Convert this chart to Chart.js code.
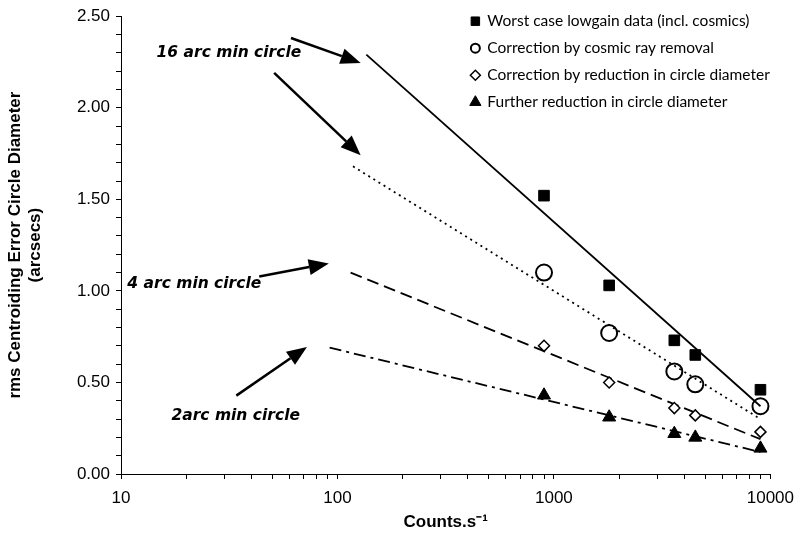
<!DOCTYPE html>
<html>
<head>
<meta charset="utf-8">
<script src="https://cdn.jsdelivr.net/npm/chart.js@4/dist/chart.umd.min.js"></script>
<style>
  html, body { margin: 0; padding: 0; background: #fff; }
  #wrap { width: 803px; height: 533px; }
</style>
</head>
<body>
<div id="wrap"><canvas id="c" width="803" height="533"></canvas></div>
<script>
// Count rates (counts per second) shared by all four measurement sets
const counts = [900, 1800, 3600, 4500, 9000];

// rms centroiding error circle diameter (arcsec)
const worstCase      = [1.52, 1.03, 0.73, 0.65, 0.46];
const cosmicRemoved  = [1.10, 0.77, 0.56, 0.49, 0.37];
const reducedCircle  = [0.70, 0.50, 0.36, 0.32, 0.23];
const furtherReduced = [0.43, 0.31, 0.22, 0.20, 0.14];

// Logarithmic trend lines, start and end of each fitted line
const trendWorstX   = [136, 9000], trendWorstY   = [2.29, 0.37];
const trendCosmicX  = [118, 9000], trendCosmicY  = [1.68, 0.30];
const trendReduceX  = [115, 9000], trendReduceY  = [1.10, 0.19];
const trendFurtherX = [92, 9000],  trendFurtherY = [0.69, 0.12];

const seriesNames = [
  'Worst case lowgain data (incl. cosmics)',
  'Correction by cosmic ray removal',
  'Correction by reduction in circle diameter',
  'Further reduction in circle diameter'
];

const yTickLabels = ['0.00', '0.50', '1.00', '1.50', '2.00', '2.50'];
const xTickLabels = ['10', '100', '1000', '10000'];

const noteTexts = ['16 arc min circle', '4 arc min circle', '2arc min circle'];

function pts(xs, ys) { return xs.map((x, i) => ({ x: x, y: ys[i] })); }

const markerStyles = [
  { pointStyle: 'rect',     radius: 7.5, legendRadius: 6,   fill: '#000', bw: 1 },
  { pointStyle: 'circle',   radius: 8,   legendRadius: 4.5, fill: 'rgba(0,0,0,0)', bw: 2 },
  { pointStyle: 'rectRot',  radius: 5.5, legendRadius: 5,   fill: '#fff', bw: 1.5 },
  { pointStyle: 'triangle', radius: 7.5, legendRadius: 6.5, fill: '#000', bw: 1 }
];
const seriesValues = [worstCase, cosmicRemoved, reducedCircle, furtherReduced];

const markerSets = seriesValues.map((vals, i) => ({
  label: seriesNames[i],
  data: pts(counts, vals),
  showLine: false,
  pointStyle: markerStyles[i].pointStyle,
  pointRadius: markerStyles[i].radius,
  pointBackgroundColor: markerStyles[i].fill,
  pointBorderColor: '#000',
  pointBorderWidth: markerStyles[i].bw,
  order: 1
}));

function trend(xs, ys, dash) {
  return {
    label: '',
    data: pts(xs, ys),
    showLine: true,
    pointRadius: 0,
    borderColor: '#000',
    borderWidth: 1.8,
    borderDash: dash,
    fill: false,
    order: 2
  };
}
const trendSets = [
  trend(trendWorstX, trendWorstY, []),
  trend(trendCosmicX, trendCosmicY, [2, 4]),
  trend(trendReduceX, trendReduceY, [12, 6]),
  trend(trendFurtherX, trendFurtherY, [12, 5, 3, 5])
];

// Callout text and arrows, positioned in data units
const notes = [
  { text: noteTexts[0], x: 14.6,  y: 2.30 },
  { text: noteTexts[1], x: 10.7,  y: 1.036 },
  { text: noteTexts[2], x: 17.1,  y: 0.315 }
];
const arrows = [
  { x0: 61,   y0: 2.381, x1: 128,  y1: 2.245 },
  { x0: 51,   y0: 2.191, x1: 128,  y1: 1.741 },
  { x0: 43.5, y0: 1.079, x1: 91.2, y1: 1.150 },
  { x0: 34.1, y0: 0.428, x1: 72.3, y1: 0.694 }
];

const calloutPlugin = {
  id: 'callouts',
  afterDatasetsDraw(chart) {
    const ctx = chart.ctx, xs = chart.scales.x, ys = chart.scales.y;
    ctx.save();
    ctx.fillStyle = '#000';
    ctx.strokeStyle = '#000';
    ctx.font = 'italic bold 15.5px "DejaVu Sans", Verdana, sans-serif';
    ctx.textBaseline = 'middle';
    ctx.textAlign = 'left';
    notes.forEach(n => {
      ctx.fillText(n.text, xs.getPixelForValue(n.x), ys.getPixelForValue(n.y));
    });
    arrows.forEach(a => {
      const px0 = xs.getPixelForValue(a.x0), py0 = ys.getPixelForValue(a.y0);
      const px1 = xs.getPixelForValue(a.x1), py1 = ys.getPixelForValue(a.y1);
      const ang = Math.atan2(py1 - py0, px1 - px0);
      const headLen = 20, headHalf = 8;
      const bx = px1 - headLen * Math.cos(ang), by = py1 - headLen * Math.sin(ang);
      ctx.lineWidth = 2.5;
      ctx.beginPath();
      ctx.moveTo(px0, py0);
      ctx.lineTo(bx, by);
      ctx.stroke();
      ctx.beginPath();
      ctx.moveTo(px1, py1);
      ctx.lineTo(bx + headHalf * Math.sin(ang), by - headHalf * Math.cos(ang));
      ctx.lineTo(bx - headHalf * Math.sin(ang), by + headHalf * Math.cos(ang));
      ctx.closePath();
      ctx.fill();
    });
    ctx.restore();
  }
};

// Legend drawn in the upper right corner of the plotting area
const legendPlugin = {
  id: 'cornerLegend',
  afterDraw(chart) {
    const ctx = chart.ctx, area = chart.chartArea;
    const mx = area.right - 295, tx = mx + 12;
    const rowY = [area.top + 5, area.top + 32, area.top + 59, area.top + 86];
    ctx.save();
    ctx.font = '15.5px Lato, "Open Sans", sans-serif';
    ctx.textBaseline = 'middle';
    ctx.textAlign = 'left';
    seriesNames.forEach((name, i) => {
      const y = rowY[i];
      const s = markerStyles[i];
      ctx.lineWidth = s.bw;
      ctx.strokeStyle = '#000';
      ctx.fillStyle = s.fill;
      Chart.helpers.drawPoint(ctx, { pointStyle: s.pointStyle, radius: s.legendRadius, rotation: 0, borderWidth: s.bw }, mx, y);
      ctx.fillStyle = '#000';
      ctx.fillText(name, tx, y);
    });
    ctx.restore();
  }
};

const tickFont = { family: '"Liberation Sans", Arial, sans-serif', size: 17 };
const titleFont = { family: '"Liberation Sans", Arial, sans-serif', size: 17, weight: 'bold' };

new Chart(document.getElementById('c'), {
  type: 'scatter',
  data: { datasets: [...markerSets, ...trendSets] },
  options: {
    responsive: false,
    animation: false,
    devicePixelRatio: 1,
    layout: { padding: { top: 13, right: 29, left: 0, bottom: 0 } },
    plugins: { legend: { display: false }, tooltip: { enabled: false } },
    scales: {
      x: {
        type: 'logarithmic',
        min: 10, max: 10000,
        border: { display: true, color: '#000', width: 1 },
        grid: { drawOnChartArea: false, drawTicks: true, tickLength: 5, color: '#000' },
        afterBuildTicks(scale) {
          const vals = [];
          for (let d = 10; d < 10000; d *= 10) for (let m = 1; m < 10; m++) vals.push(m * d);
          vals.push(10000);
          scale.ticks = vals.map(v => ({ value: v }));
        },
        ticks: {
          autoSkip: false, maxRotation: 0, color: '#000', font: tickFont, padding: 9,
          callback(v) {
            const e = Math.log10(v);
            return Math.abs(e - Math.round(e)) < 1e-9 ? xTickLabels[Math.round(e) - 1] : '';
          }
        },
        title: { display: true, text: 'Counts.s\u207B\u00B9', color: '#000', font: titleFont, padding: { top: 0, bottom: 0 } },
        afterFit(scale) { scale.height = 59; }
      },
      y: {
        min: 0, max: 2.5,
        border: { display: true, color: '#000', width: 1 },
        grid: { drawOnChartArea: false, drawTicks: true, tickLength: 5, color: '#000' },
        ticks: {
          stepSize: 0.1, autoSkip: false, color: '#000', font: tickFont, padding: 6,
          callback(v) {
            const k = Math.round(v * 10);
            return k % 5 === 0 ? yTickLabels[k / 5] : '';
          }
        },
        title: {
          display: true,
          text: ['rms Centroiding Error Circle Diameter', '(arcsecs)'],
          color: '#000', font: titleFont, padding: { top: 5, bottom: 0 }
        },
        afterFit(scale) { scale.width = 121; }
      }
    }
  },
  plugins: [calloutPlugin, legendPlugin]
});
</script>
</body>
</html>
